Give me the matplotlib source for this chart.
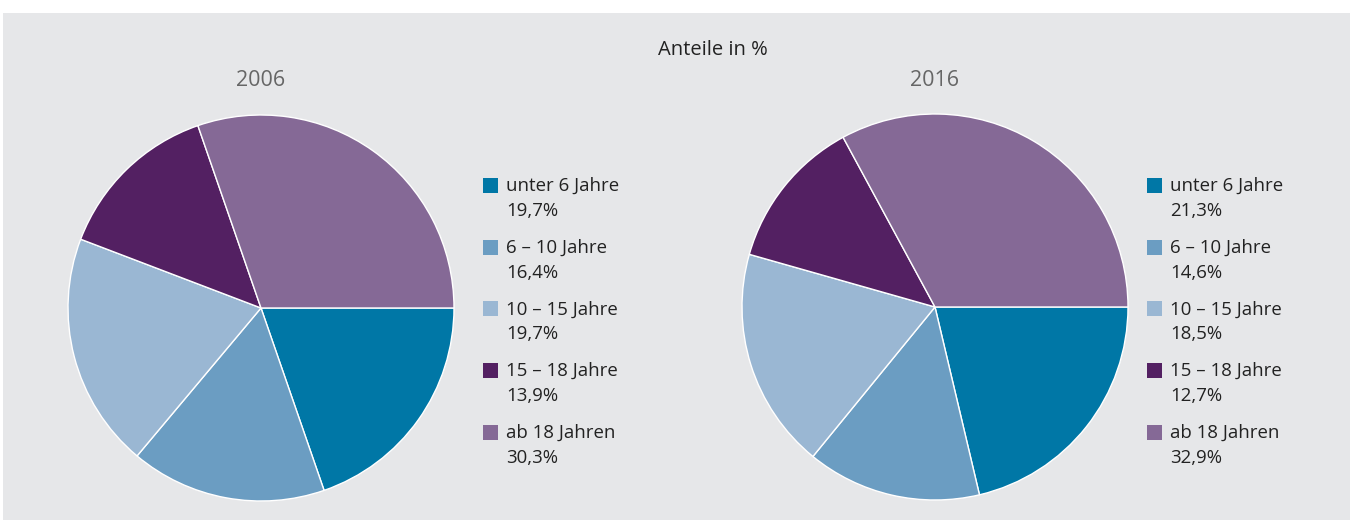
import matplotlib
matplotlib.use("Agg")
import matplotlib.pyplot as plt
from matplotlib.patches import Rectangle

plt.rcParams['font.family'] = ['Open Sans', 'DejaVu Sans']

categories = ["unter 6 Jahre", "6 – 10 Jahre", "10 – 15 Jahre", "15 – 18 Jahre", "ab 18 Jahren"]
values_2006 = [19.7, 16.4, 19.7, 13.9, 30.3]
values_2016 = [21.3, 14.6, 18.5, 12.7, 32.9]
years = ["2006", "2016"]
colors = ["#0077a6", "#6b9dc2", "#9ab7d3", "#532062", "#856996"]

W, H = 1350, 520
fig = plt.figure(figsize=(W / 100, H / 100), dpi=100)
fig.patch.set_facecolor("white")
fig.patches.append(Rectangle((3 / W, 0), 1, 1 - 13 / H, transform=fig.transFigure,
                             facecolor="#e6e7e9", edgecolor="none", zorder=-1))


def px(x, y):
    # pixel coords (origin top-left) -> figure fraction
    return x / W, 1 - y / H


def draw_pie(cx, cy, r, vals, year, legend_x):
    ax = fig.add_axes([(cx - r) / W, 1 - (cy + r) / H, 2 * r / W, 2 * r / H])
    ax.pie(vals, colors=colors, startangle=0, counterclock=False,
           wedgeprops=dict(edgecolor="white", linewidth=1))
    ax.set_xlim(-1, 1)
    ax.set_ylim(-1, 1)
    ax.set_aspect("equal")
    ax.axis("off")
    fig.text(*px(cx, 80), year, ha="center", va="center", fontsize=15.5, color="#666666")
    for i, (cat, v) in enumerate(zip(categories, vals)):
        y0 = 186 + i * 61.7
        fig.patches.append(Rectangle(px(legend_x, y0 + 7), 15 / W, 15 / H,
                                     transform=fig.transFigure,
                                     facecolor=colors[i], edgecolor="none"))
        fig.text(*px(legend_x + 23, y0), cat, ha="left", va="center",
                 fontsize=13.4, color="#222222")
        fig.text(*px(legend_x + 23, y0 + 25), f"{v:.1f}%".replace(".", ","),
                 ha="left", va="center", fontsize=13.4, color="#222222")


draw_pie(261, 308, 193, values_2006, years[0], 483)
draw_pie(935, 307, 193, values_2016, years[1], 1147)

fig.text(*px(713, 50), "Anteile in %", ha="center", va="center", fontsize=14.5, color="#222222")

fig.savefig("out.png", dpi=100)
